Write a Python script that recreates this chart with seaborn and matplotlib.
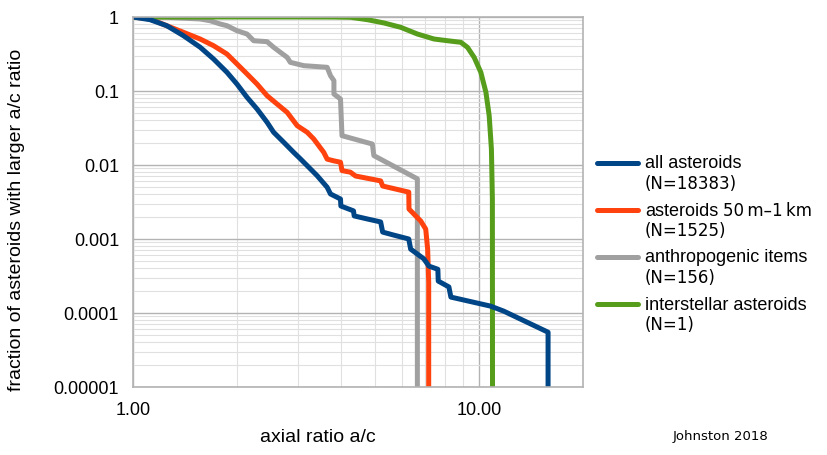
import pandas as pd
import matplotlib
matplotlib.use("Agg")
import matplotlib.pyplot as plt
import seaborn as sns
from matplotlib.lines import Line2D
from matplotlib.ticker import LogLocator, FixedLocator, FixedFormatter, NullFormatter

# ---------------- data ----------------
all_x = [1.0, 1.12, 1.252, 1.399, 1.564, 1.709, 1.869, 1.998, 2.136, 2.284, 2.441, 2.55,
         2.727, 2.915, 3.048, 3.188, 3.407, 3.642, 3.724, 3.98, 3.99, 4.34, 4.36, 4.77,
         5.2, 5.27, 5.67, 6.27, 6.35, 6.93, 7.17, 7.61, 7.63, 8.19, 8.3, 10.8, 11.8, 15.85, 15.85]
all_y = [1.0, 0.92, 0.763, 0.559, 0.39, 0.271, 0.179, 0.124, 0.0822, 0.0571, 0.0378, 0.0277,
         0.0203, 0.0148, 0.0121, 0.0098, 0.00717, 0.005, 0.00406, 0.00347, 0.00279, 0.0024, 0.00205, 0.00186,
         0.0017, 0.00124, 0.00113, 0.001, 0.00073, 0.00054, 0.00043, 0.00039, 0.00027, 0.000225, 0.000164,
         0.000124, 0.000106, 5.5e-5, 1e-5]

small_x = [1.0, 1.12, 1.252, 1.399, 1.564, 1.709, 1.869, 1.998, 2.136, 2.284, 2.441, 2.609,
           2.79, 2.983, 3.188, 3.33, 3.561, 3.642, 3.8, 3.98, 4.02, 4.25, 4.4, 5.2, 5.27,
           6.27, 6.28, 6.79, 7.02, 7.11, 7.16, 7.16]
small_y = [1.0, 0.94, 0.763, 0.621, 0.504, 0.41, 0.316, 0.232, 0.17, 0.124, 0.0865, 0.0667,
           0.0515, 0.034, 0.0277, 0.0225, 0.0148, 0.012, 0.0114, 0.0109, 0.0084, 0.008, 0.0071, 0.0061, 0.0052,
           0.0043, 0.00254, 0.00175, 0.00136, 0.00073, 0.00026, 1e-5]

anthro_x = [1.0, 1.252, 1.564, 1.672, 1.787, 1.869, 1.998, 2.136, 2.233, 2.441, 2.55, 2.667,
            2.79, 2.85, 3.117, 3.642, 3.724, 3.81, 3.81, 3.98, 4.02, 4.92, 4.97, 6.64, 6.64]
anthro_y = [1.0, 0.99, 0.94, 0.89, 0.804, 0.763, 0.653, 0.589, 0.478, 0.464, 0.39, 0.333,
            0.285, 0.244, 0.22, 0.209, 0.161, 0.138, 0.091, 0.078, 0.0249, 0.0192, 0.0134, 0.0065, 1e-5]

inter_x = [1.0, 2.0, 3.05, 3.8, 4.26, 4.76, 5.32, 5.94, 6.64, 7.42, 8.11, 8.87, 9.27, 9.69,
           10.13, 10.48, 10.71, 10.87, 10.94, 10.95]
inter_y = [1.0, 1.0, 1.0, 0.998, 0.99, 0.92, 0.83, 0.726, 0.589, 0.504, 0.478, 0.455, 0.389, 0.285,
           0.179, 0.096, 0.0464, 0.0164, 0.0035, 1e-5]

names = ["all asteroids", "asteroids 50 m–1 km", "anthropogenic items", "interstellar asteroids"]
counts = ["(N=18383)", "(N=1525)", "(N=156)", "(N=1)"]
colors = ["#004586", "#ff420e", "#a0a0a0", "#579d1c"]

y_ticks = [1, 0.1, 0.01, 0.001, 0.0001, 0.00001]
y_tick_labels = ["1", "0.1", "0.01", "0.001", "0.0001", "0.00001"]
x_ticks = [1, 10]
x_tick_labels = ["1.00", "10.00"]

df = pd.concat([
    pd.DataFrame({"ratio": all_x, "fraction": all_y, "series": names[0]}),
    pd.DataFrame({"ratio": small_x, "fraction": small_y, "series": names[1]}),
    pd.DataFrame({"ratio": anthro_x, "fraction": anthro_y, "series": names[2]}),
    pd.DataFrame({"ratio": inter_x, "fraction": inter_y, "series": names[3]}),
], ignore_index=True)

# ---------------- style ----------------
sns.set_style("white")
plt.rcParams["font.family"] = ["Liberation Sans", "DejaVu Sans"]
plt.rcParams["text.color"] = "black"
plt.rcParams["axes.labelcolor"] = "black"

W, H = 827, 456
fig = plt.figure(figsize=(W / 100, H / 100), dpi=100)
ax = fig.add_axes([133 / W, 1 - 388 / H, 450 / W, 370 / H])
ax.set_xscale("log")
ax.set_yscale("log")

palette = dict(zip(names, colors))
sns.lineplot(data=df, x="ratio", y="fraction", hue="series",
             hue_order=[names[2], names[1], names[3], names[0]],
             palette=palette, sort=False, estimator=None,
             linewidth=3.6, legend=False, ax=ax)

ax.set_xlim(1, 20)
ax.set_ylim(1e-5, 1)

# grid
ax.xaxis.set_major_locator(FixedLocator(x_ticks))
ax.xaxis.set_major_formatter(FixedFormatter(x_tick_labels))
ax.xaxis.set_minor_locator(LogLocator(base=10, subs=range(2, 10), numticks=20))
ax.xaxis.set_minor_formatter(NullFormatter())
ax.yaxis.set_major_locator(FixedLocator(y_ticks))
ax.yaxis.set_major_formatter(FixedFormatter(y_tick_labels))
ax.yaxis.set_minor_locator(LogLocator(base=10, subs=range(2, 10), numticks=20))
ax.yaxis.set_minor_formatter(NullFormatter())
ax.grid(which="major", color="#b3b3b3", linewidth=1.0)
ax.grid(which="minor", color="#e0e0e0", linewidth=0.8)
ax.set_axisbelow(True)

ax.tick_params(which="major", length=7, width=1, color="#b3b3b3", labelcolor="black",
               labelsize=13, pad=3)
ax.tick_params(which="minor", length=0)
for s in ax.spines.values():
    s.set_color("#b3b3b3")
    s.set_linewidth(1.2)

ax.set_xlabel("axial ratio a/c", fontsize=14, va="center")
ax.xaxis.set_label_coords(0.411, -0.135)
ax.set_ylabel("fraction of asteroids with larger a/c ratio", fontsize=14, va="center")
ax.yaxis.set_label_coords(-0.258, 0.454)

# ---------------- legend (drawn by hand for the mixed fonts) ----------------
def px(x, y):
    return x / W, 1 - y / H

rows = [164, 211, 258, 305]
for name, n, col, y in zip(names, counts, colors, rows):
    (x0, yy), (x1, _) = px(597, y), px(638, y)
    fig.add_artist(Line2D([x0, x1], [yy, yy], color=col, linewidth=3.6,
                          transform=fig.transFigure))
    if name.startswith("asteroids "):
        fig.text(*px(645, y), "asteroids", fontsize=13, va="center", ha="left")
        fig.text(*px(723, y), "50\u2009m–1\u2009km", fontsize=12, va="center", ha="left",
                 family="DejaVu Sans")
    else:
        fig.text(*px(645, y), name, fontsize=13, va="center", ha="left")
    fig.text(*px(645, y + 20), n, fontsize=12, va="center", ha="left", family="DejaVu Sans")

fig.text(*px(721, 437), "Johnston 2018", fontsize=9.5, ha="center", va="center",
         family="DejaVu Sans")

fig.savefig("out.png", dpi=100, facecolor="white")
